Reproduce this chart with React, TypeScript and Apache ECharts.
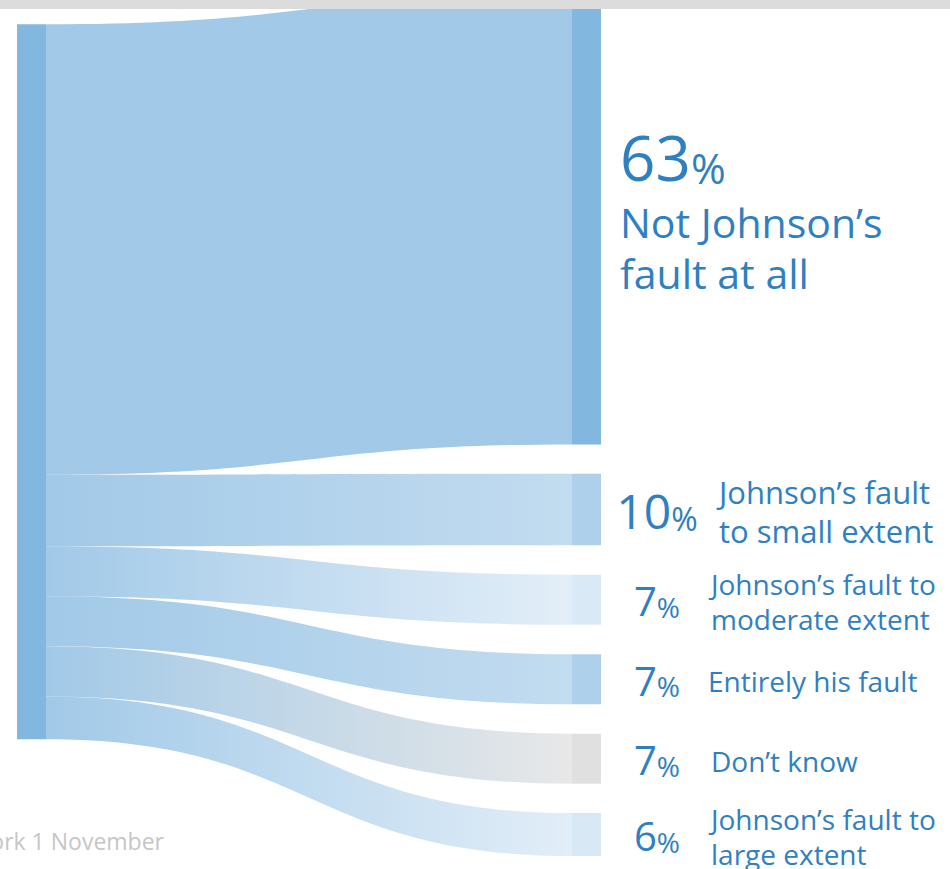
import React, { useEffect, useRef } from "react";
import * as echarts from "echarts";

// ---- data ----
const sourceName = "All respondents";
const categories = [
  "Not Johnson’s fault at all",
  "Johnson’s fault to small extent",
  "Johnson’s fault to moderate extent",
  "Entirely his fault",
  "Don’t know",
  "Johnson’s fault to large extent",
];
const values = [63, 10, 7, 7, 7, 6];
const percentLabels = ["63", "10", "7", "7", "7", "6"];
const descriptionLines = [
  ["Not Johnson’s", "fault at all"],
  ["Johnson’s fault", "to small extent"],
  ["Johnson’s fault to", "moderate extent"],
  ["Entirely his fault"],
  ["Don’t know"],
  ["Johnson’s fault to", "large extent"],
];
const footerText = "ork 1 November";

// ---- styles ----
const SOURCE_COLOR = "#82b7e0";
const TARGET_COLORS = ["#82b7e0", "#aed0eb", "#dae9f6", "#aed0eb", "#e0e0e0", "#d8e8f5"];
const TEXT_COLOR = "#2f80c1";
const FONT = '"Open Sans", "Noto Sans", sans-serif';

const SANKEY_BOX = { left: 17, right: 349, top: -6, bottom: 13 };
const NODE_WIDTH = 29;
const NODE_GAP = 29.4;

// per-target label styling (index aligned with categories)
const labelStyle = [
  { num: 62, pct: 42, desc: 41, lh: 51, descX: 620 },
  { num: 48, pct: 32, desc: 31, lh: 39, descX: 719 },
  { num: 40, pct: 28, desc: 28, lh: 35, descX: 711 },
  { num: 40, pct: 28, desc: 28, lh: 35, descX: 708 },
  { num: 40, pct: 28, desc: 28, lh: 35, descX: 711 },
  { num: 40, pct: 28, desc: 28, lh: 35, descX: 711 },
];
const NUM_CENTER_X = 657;

function percentText(x: number, y: number, num: string, fs: number, pfs: number, align: string) {
  return {
    type: "text",
    x,
    y,
    z: 10,
    silent: true,
    style: {
      text: `{n|${num}}{p|%}`,
      align,
      verticalAlign: "middle",
      fill: TEXT_COLOR,
      rich: {
        n: { fontSize: fs, fontFamily: FONT, fill: TEXT_COLOR, lineHeight: fs, verticalAlign: "bottom" },
        p: {
          fontSize: pfs,
          fontFamily: FONT,
          fill: TEXT_COLOR,
          lineHeight: 0.28 * fs + 0.72 * pfs,
          verticalAlign: "bottom",
        },
      },
    },
  };
}

function plainText(x: number, y: number, text: string, fs: number, lh: number, fill: string, align = "left") {
  return {
    type: "text",
    x,
    y,
    z: 10,
    silent: true,
    style: {
      text,
      align,
      verticalAlign: "middle",
      fill,
      fontSize: fs,
      fontFamily: FONT,
      lineHeight: lh,
    },
  };
}

export default function App() {
  const ref = useRef<HTMLDivElement>(null);

  useEffect(() => {
    const el = ref.current;
    if (!el) return;
    const chart = echarts.init(el, null, { renderer: "svg" });

    const nodes = [
      { name: sourceName, itemStyle: { color: SOURCE_COLOR } },
      ...categories.map((c, i) => ({ name: c, itemStyle: { color: TARGET_COLORS[i] } })),
    ];
    const links = categories.map((c, i) => ({ source: sourceName, target: c, value: values[i] }));

    chart.setOption({
      animation: false,
      series: [
        {
          type: "sankey",
          ...SANKEY_BOX,
          nodeWidth: NODE_WIDTH,
          nodeGap: NODE_GAP,
          layoutIterations: 32,
          draggable: false,
          emphasis: { disabled: true },
          label: { show: false },
          itemStyle: { borderWidth: 0 },
          lineStyle: { color: "gradient", opacity: 0.75, curveness: 0.5 },
          data: nodes,
          links,
        },
      ],
    });

    // node centres from the library's own layout
    const centers: number[] = [];
    try {
      const series = (chart as any).getModel().getSeriesByIndex(0);
      const info = series.layoutInfo || { x: SANKEY_BOX.left, y: SANKEY_BOX.top };
      const graph = series.getGraph();
      categories.forEach((_, i) => {
        const lay = graph.nodes[i + 1].getLayout();
        centers.push(info.y + lay.y + lay.dy / 2);
      });
    } catch (e) {
      const H = 869 - SANKEY_BOX.top - SANKEY_BOX.bottom;
      const total = values.reduce((a, b) => a + b, 0);
      const k = (H - (values.length - 1) * NODE_GAP) / total;
      let y = SANKEY_BOX.top;
      values.forEach((v) => {
        centers.push(y + (v * k) / 2);
        y += v * k + NODE_GAP;
      });
    }

    const graphics: any[] = [];
    graphics.push({
      type: "rect",
      z: 100,
      silent: true,
      shape: { x: 0, y: 0, width: 950, height: 9 },
      style: { fill: "#dcdcdc" },
    });

    categories.forEach((_, i) => {
      const s = labelStyle[i];
      const cy = centers[i];
      if (i === 0) {
        graphics.push(percentText(620, cy - 62, percentLabels[i], s.num, s.pct, "left"));
        graphics.push(plainText(s.descX, cy + 28, descriptionLines[i].join("\n"), s.desc, s.lh, TEXT_COLOR));
      } else {
        graphics.push(percentText(NUM_CENTER_X, cy + 1, percentLabels[i], s.num, s.pct, "center"));
        graphics.push(plainText(s.descX, cy + 2, descriptionLines[i].join("\n"), s.desc, s.lh, TEXT_COLOR));
      }
    });

    graphics.push(plainText(164, 841, footerText, 23, 28, "#c6c6c6", "right"));

    chart.setOption({ graphic: { elements: graphics } });

    return () => chart.dispose();
  }, []);

  return (
    <div
      ref={ref}
      style={{ position: "absolute", left: 0, top: 0, width: 950, height: 869, background: "#ffffff" }}
    />
  );
}
